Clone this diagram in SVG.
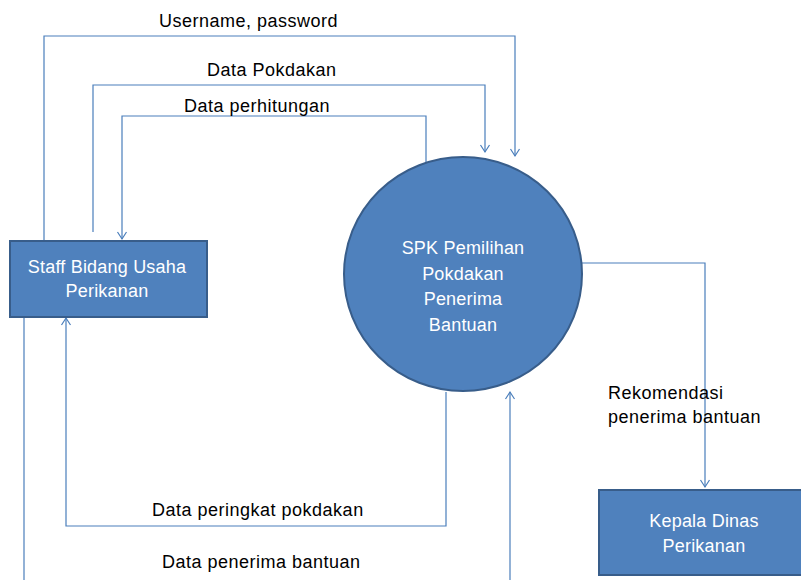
<svg xmlns="http://www.w3.org/2000/svg" width="801" height="580" viewBox="0 0 801 580">
<style>
.node{fill:#4F81BD;stroke:#385D8A;stroke-width:2}
.ntxt{font-family:"Liberation Sans",Arial,sans-serif;font-size:18px;fill:#FFFFFF;text-anchor:middle;letter-spacing:0.2px}
.lbl{font-family:"Liberation Sans",Arial,sans-serif;font-size:18px;fill:#000000;letter-spacing:0.5px}
.conn{fill:none;stroke:#4A7EBB;stroke-width:1.2}
</style>
<defs>
<marker id="arr" markerUnits="userSpaceOnUse" markerWidth="12" markerHeight="12" refX="9" refY="6" orient="auto">
<path d="M2,1.5 L9,6 L2,10.5" fill="none" stroke="#4A7EBB" stroke-width="1.2"/>
</marker>
</defs>
<g id="connectors">
<path class="conn" d="M44,240 V36 H515 V156" marker-end="url(#arr)"/>
<path class="conn" d="M93,232 V85 H485 V152" marker-end="url(#arr)"/>
<path class="conn" d="M426,165 V116 H122 V239" marker-end="url(#arr)"/>
<path class="conn" d="M446,392 V526 H66 V318" marker-end="url(#arr)"/>
<path class="conn" d="M24,317 V582"/>
<path class="conn" d="M510,582 V392" marker-end="url(#arr)"/>
<path class="conn" d="M582,263 H705 V487" marker-end="url(#arr)"/>
</g>
<g id="labels">
<text class="lbl" x="159" y="27">Username, password</text>
<text class="lbl" x="207" y="76">Data Pokdakan</text>
<text class="lbl" x="184" y="112">Data perhitungan</text>
<text class="lbl" x="152" y="516">Data peringkat pokdakan</text>
<text class="lbl" x="162" y="568">Data penerima bantuan</text>
<text class="lbl" x="608" y="399">Rekomendasi</text>
<text class="lbl" x="608" y="423">penerima bantuan</text>
</g>
<g id="staff">
<rect class="node" x="10" y="241" width="197" height="76"/>
<text class="ntxt" x="107" y="273">Staff Bidang Usaha</text>
<text class="ntxt" x="107" y="297">Perikanan</text>
</g>
<g id="spk">
<ellipse class="node" cx="463" cy="274" rx="119" ry="117"/>
<text class="ntxt" x="463" y="254">SPK Pemilihan</text>
<text class="ntxt" x="463" y="280">Pokdakan</text>
<text class="ntxt" x="463" y="305">Penerima</text>
<text class="ntxt" x="463" y="331">Bantuan</text>
</g>
<g id="kepala">
<rect class="node" x="599" y="490" width="210" height="85"/>
<text class="ntxt" x="704" y="527">Kepala Dinas</text>
<text class="ntxt" x="704" y="552">Perikanan</text>
</g>
</svg>
